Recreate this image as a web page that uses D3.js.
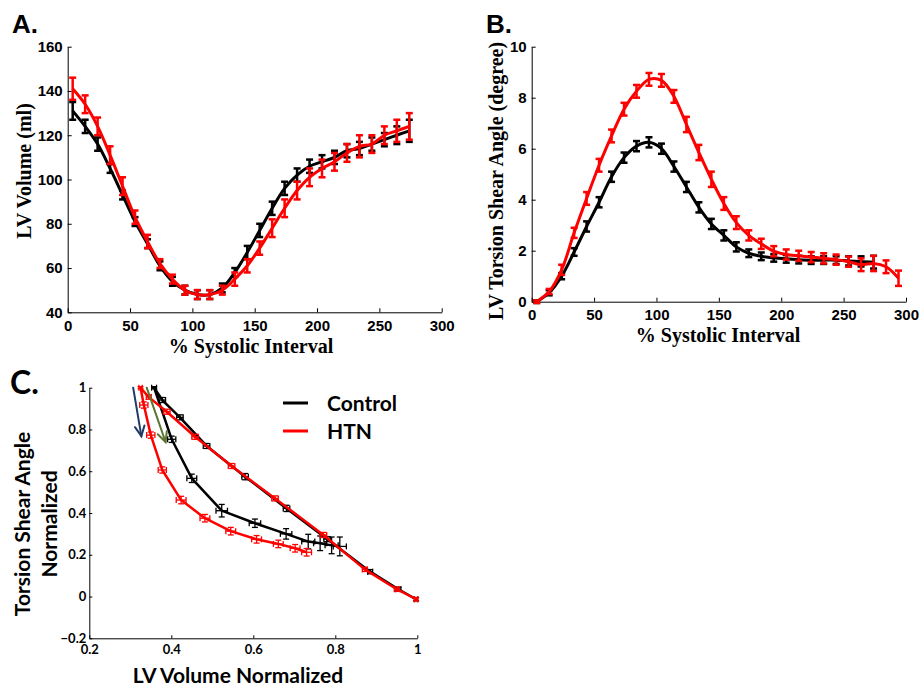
<!DOCTYPE html>
<html>
<head>
<meta charset="utf-8">
<script src="https://cdn.jsdelivr.net/npm/d3@7"></script>
<style>
  html, body { margin: 0; padding: 0; background: #fff; }
  svg { display: block; }
</style>
</head>
<body>
<svg id="chart" width="921" height="690"></svg>
<script>
// --- Panel A & B: % systolic interval
const pctControl = [4, 14, 24, 34, 44, 54, 64, 74, 84, 94, 104, 114, 124, 134, 144, 154, 164, 174, 184, 194, 204, 214, 224, 234, 244, 254, 264, 274];
const pctHTN = [4, 14, 24, 34, 44, 54, 64, 74, 84, 94, 104, 114, 124, 134, 144, 154, 164, 174, 184, 194, 204, 214, 224, 234, 244, 254, 264, 274, 284, 294];

// LV volume (ml)
const volControl = [131, 124, 116, 105, 93, 81, 71, 61, 54, 50, 48, 48, 51, 58, 67, 77, 87, 96, 102, 106, 108, 110, 113, 114, 116, 118, 120, 122];
const volControlErr = [4, 3, 3, 2, 2, 2, 2, 2, 2, 2, 2, 2, 2, 2, 3, 3, 3, 3, 3, 3, 3, 3, 3, 3, 3, 3, 4, 5];
const volHTN = [141, 134, 124, 111, 97, 83, 72, 62, 55, 50, 48, 48, 50, 55, 61, 69, 78, 87, 95, 101, 105, 108, 112, 115, 116, 120, 122, 124];
const volHTNErr = [5, 4, 4, 4, 4, 3, 3, 2, 2, 2, 2, 2, 2, 3, 3, 3, 4, 4, 4, 4, 4, 4, 4, 5, 4, 4, 5, 6];

// LV torsion shear angle (degree)
const torControl = [0, 0.35, 1.0, 1.95, 2.95, 3.9, 4.9, 5.65, 6.1, 6.25, 6.0, 5.3, 4.5, 3.7, 3.05, 2.6, 2.15, 1.9, 1.78, 1.72, 1.68, 1.65, 1.63, 1.63, 1.63, 1.6, 1.58, 1.55];
const torControlErr = [0.05, 0.1, 0.12, 0.15, 0.2, 0.2, 0.2, 0.2, 0.2, 0.2, 0.2, 0.2, 0.2, 0.2, 0.2, 0.2, 0.18, 0.15, 0.15, 0.15, 0.15, 0.15, 0.15, 0.15, 0.15, 0.18, 0.2, 0.25];
const torHTN = [0, 0.4, 1.25, 2.7, 4.05, 5.35, 6.5, 7.55, 8.25, 8.72, 8.68, 8.05, 6.95, 5.85, 4.8, 3.85, 3.1, 2.6, 2.27, 1.98, 1.85, 1.8, 1.75, 1.7, 1.65, 1.57, 1.45, 1.5, 1.37, 0.92];
const torHTNErr = [0.05, 0.1, 0.2, 0.2, 0.25, 0.25, 0.25, 0.25, 0.25, 0.25, 0.25, 0.25, 0.3, 0.3, 0.3, 0.25, 0.25, 0.2, 0.2, 0.2, 0.2, 0.2, 0.2, 0.2, 0.2, 0.2, 0.25, 0.3, 0.25, 0.3];

// --- Panel C: normalized loops (systole branch, then diastole branch)
const loopVolControl = [0.997, 0.954, 0.885, 0.78, 0.681, 0.58, 0.486, 0.421, 0.378, 0.358, 0.401, 0.45, 0.523, 0.604, 0.68, 0.734, 0.763, 0.791, 0.811];
const loopTorControl = [-0.013, 0.035, 0.119, 0.275, 0.422, 0.574, 0.721, 0.858, 0.941, 1.0, 0.753, 0.566, 0.411, 0.351, 0.3, 0.263, 0.255, 0.245, 0.24];
const loopVolControlErr = [0.004, 0.006, 0.006, 0.008, 0.008, 0.008, 0.008, 0.008, 0.008, 0.006, 0.01, 0.012, 0.014, 0.014, 0.014, 0.016, 0.016, 0.016, 0.016];
const loopTorControlErr = [0.008, 0.01, 0.01, 0.012, 0.015, 0.015, 0.012, 0.012, 0.012, 0.005, 0.015, 0.02, 0.03, 0.02, 0.025, 0.035, 0.035, 0.04, 0.045];

const loopVolHTN = [0.997, 0.95, 0.872, 0.771, 0.653, 0.547, 0.458, 0.389, 0.345, 0.325, 0.333, 0.35, 0.378, 0.424, 0.482, 0.545, 0.608, 0.661, 0.702, 0.73];
const loopTorHTN = [-0.013, 0.035, 0.13, 0.295, 0.47, 0.625, 0.765, 0.885, 0.955, 1.0, 0.917, 0.773, 0.606, 0.462, 0.375, 0.313, 0.274, 0.252, 0.231, 0.212];
const loopVolHTNErr = [0.004, 0.006, 0.006, 0.008, 0.008, 0.008, 0.008, 0.008, 0.006, 0.004, 0.01, 0.01, 0.01, 0.012, 0.012, 0.012, 0.012, 0.012, 0.012, 0.012];
const loopTorHTNErr = [0.008, 0.01, 0.01, 0.012, 0.012, 0.012, 0.012, 0.012, 0.01, 0.005, 0.015, 0.015, 0.015, 0.018, 0.018, 0.018, 0.018, 0.018, 0.018, 0.018];

// arrows in panel C: [x1, y1, x2, y2] in data units
const arrowBlue = [0.307, 1.0, 0.327, 0.768];
const arrowGreen = [0.34, 1.0, 0.386, 0.74];

const legendItems = ["Control", "HTN"];

(function() {
    const config = {
        colors: { control: "#000000", htn: "#ff0000", blue: "#1f3b66", green: "#5a7530" },
        fonts: {
            sans: '"Liberation Sans", Arial, sans-serif',
            serif: '"Liberation Serif", "Times New Roman", serif',
            calibri: 'Lato, "Open Sans", sans-serif'
        }
    };

    const svg = d3.select("#chart");

    function zip(xs, ys, es, xe) {
        return xs.map((x, i) => ({ x: x, y: ys[i], e: es ? es[i] : 0, xe: xe ? xe[i] : 0 }));
    }

    function styleAxis(g, font, size) {
        g.attr("font-family", font).attr("font-size", size).attr("font-weight", "bold");
        g.select(".domain").attr("stroke", "#000").attr("stroke-width", 1);
        g.selectAll(".tick line").attr("stroke", "#000");
        g.selectAll(".tick text").attr("fill", "#000");
    }

    // a time-course panel (A or B)
    function renderTimePanel(opts) {
        const g = svg.append("g");
        const x = d3.scaleLinear().domain([0, 300]).range(opts.xr);
        const y = d3.scaleLinear().domain(opts.yDomain).range(opts.yr);

        g.append("g")
            .attr("transform", `translate(0,${opts.yr[0]})`)
            .call(d3.axisBottom(x).tickValues([0, 50, 100, 150, 200, 250, 300]).tickSizeInner(-4).tickSizeOuter(0).tickPadding(opts.xPad))
            .call(s => styleAxis(s, config.fonts.sans, "15px"));

        g.append("g")
            .attr("transform", `translate(${opts.xr[0]},0)`)
            .call(d3.axisLeft(y).tickValues(opts.yTicks).tickSizeInner(-4).tickSizeOuter(0).tickPadding(5))
            .call(s => styleAxis(s, config.fonts.sans, "15px"));

        const line = d3.line().x(d => x(d.x)).y(d => y(d.y)).curve(d3.curveCatmullRom.alpha(0.5));

        opts.series.forEach(s => {
            g.append("path")
                .datum(s.data)
                .attr("fill", "none")
                .attr("stroke", s.color)
                .attr("stroke-width", 3)
                .attr("d", line);

            const eb = g.append("g").attr("stroke", s.color).attr("stroke-width", 2.5).attr("fill", "none");
            s.data.forEach(d => {
                const cx = x(d.x), y0 = y(d.y - d.e), y1 = y(d.y + d.e);
                eb.append("line").attr("x1", cx).attr("x2", cx).attr("y1", y0).attr("y2", y1);
                eb.append("line").attr("x1", cx - 3.5).attr("x2", cx + 3.5).attr("y1", y0).attr("y2", y0);
                eb.append("line").attr("x1", cx - 3.5).attr("x2", cx + 3.5).attr("y1", y1).attr("y2", y1);
            });
        });

        g.append("text")
            .attr("transform", `translate(${opts.yTitlePos[0]},${opts.yTitlePos[1]}) rotate(-90)`)
            .attr("text-anchor", "middle")
            .attr("dy", "0.35em")
            .attr("font-family", config.fonts.serif)
            .attr("font-weight", "bold")
            .attr("font-size", "20px")
            .text(opts.yTitle);

        g.append("text")
            .attr("x", opts.xTitlePos[0])
            .attr("y", opts.xTitlePos[1])
            .attr("text-anchor", "middle")
            .attr("font-family", config.fonts.serif)
            .attr("font-weight", "bold")
            .attr("font-size", "20px")
            .text("% Systolic Interval");

        g.append("text")
            .attr("x", opts.labelPos[0])
            .attr("y", opts.labelPos[1])
            .attr("font-family", config.fonts.sans)
            .attr("font-weight", "bold")
            .attr("font-size", "26px")
            .text(opts.label);
    }

    function renderLoopPanel() {
        const g = svg.append("g");
        const x = d3.scaleLinear().domain([0.2, 1]).range([89.3, 417.3]);
        const y = d3.scaleLinear().domain([-0.2, 1]).range([638.3, 387.7]);

        g.append("g")
            .attr("transform", `translate(0,${y(-0.2)})`)
            .call(d3.axisBottom(x).tickValues([0.2, 0.4, 0.6, 0.8, 1]).tickFormat(d3.format("~g")).tickSizeInner(-3).tickSizeOuter(0).tickPadding(6))
            .call(s => styleAxis(s, config.fonts.calibri, "13px"));

        g.append("g")
            .attr("transform", `translate(${x(0.2)},0)`)
            .call(d3.axisLeft(y).tickValues([-0.2, 0, 0.2, 0.4, 0.6, 0.8, 1]).tickFormat(d3.format("~g")).tickSizeInner(-3).tickSizeOuter(0).tickPadding(3))
            .call(s => styleAxis(s, config.fonts.calibri, "13px"));

        const line = d3.line().x(d => x(d.x)).y(d => y(d.y));

        const series = [
            { color: config.colors.control, data: zip(loopVolControl, loopTorControl, loopTorControlErr, loopVolControlErr) },
            { color: config.colors.htn, data: zip(loopVolHTN, loopTorHTN, loopTorHTNErr, loopVolHTNErr) }
        ];

        series.forEach(s => {
            g.append("path")
                .datum(s.data)
                .attr("fill", "none")
                .attr("stroke", s.color)
                .attr("stroke-width", 2.5)
                .attr("stroke-linejoin", "round")
                .attr("d", line);

            const eb = g.append("g").attr("stroke", s.color).attr("stroke-width", 1.3).attr("fill", "none");
            s.data.forEach(d => {
                const cx = x(d.x), cy = y(d.y);
                const ya = y(d.y - d.e), yb = y(d.y + d.e);
                const xa = x(d.x - d.xe), xb = x(d.x + d.xe);
                eb.append("line").attr("x1", cx).attr("x2", cx).attr("y1", ya).attr("y2", yb);
                eb.append("line").attr("x1", cx - 3).attr("x2", cx + 3).attr("y1", ya).attr("y2", ya);
                eb.append("line").attr("x1", cx - 3).attr("x2", cx + 3).attr("y1", yb).attr("y2", yb);
                eb.append("line").attr("x1", xa).attr("x2", xb).attr("y1", cy).attr("y2", cy);
                eb.append("line").attr("x1", xa).attr("x2", xa).attr("y1", cy - 3).attr("y2", cy + 3);
                eb.append("line").attr("x1", xb).attr("x2", xb).attr("y1", cy - 3).attr("y2", cy + 3);
            });
        });

        // arrows
        [[arrowBlue, config.colors.blue], [arrowGreen, config.colors.green]].forEach(([a, color]) => {
            const x1 = x(a[0]), y1 = y(a[1]), x2 = x(a[2]), y2 = y(a[3]);
            const ang = Math.atan2(y2 - y1, x2 - x1);
            const hl = 11, spread = 0.45;
            const ag = g.append("g").attr("stroke", color).attr("stroke-width", 2).attr("fill", "none").attr("stroke-linecap", "round");
            ag.append("line").attr("x1", x1).attr("y1", y1).attr("x2", x2).attr("y2", y2);
            ag.append("path").attr("d", `M${x2 - hl * Math.cos(ang - spread)},${y2 - hl * Math.sin(ang - spread)}L${x2},${y2}L${x2 - hl * Math.cos(ang + spread)},${y2 - hl * Math.sin(ang + spread)}`);
        });

        // legend
        const legend = g.append("g").attr("transform", "translate(283,403)");
        legendItems.forEach((name, i) => {
            const row = legend.append("g").attr("transform", `translate(0,${i * 28})`);
            row.append("line").attr("x1", 0).attr("x2", 25).attr("y1", 0).attr("y2", 0)
                .attr("stroke", i === 0 ? config.colors.control : config.colors.htn).attr("stroke-width", 3);
            row.append("text").attr("x", 44).attr("y", 0).attr("dy", "0.36em")
                .attr("font-family", config.fonts.calibri).attr("font-weight", "bold").attr("font-size", "21px")
                .text(name);
        });

        // titles
        const titleFont = s => s.attr("font-family", config.fonts.calibri).attr("font-weight", "bold").attr("font-size", "21px").attr("text-anchor", "middle");
        g.append("text").attr("x", 238).attr("y", 683).call(titleFont).text("LV Volume Normalized");
        g.append("text").attr("transform", "translate(23,524) rotate(-90)").attr("dy", "0.35em").call(titleFont).text("Torsion Shear Angle");
        g.append("text").attr("transform", "translate(50,524) rotate(-90)").attr("dy", "0.35em").call(titleFont).text("Normalized");

        g.append("text").attr("x", 10).attr("y", 394)
            .attr("font-family", config.fonts.calibri).attr("font-weight", "bold").attr("font-size", "32px")
            .text("C.");
    }

    renderTimePanel({
        label: "A.", labelPos: [12, 33],
        xr: [67.7, 441.7], yr: [312.3, 46.7], yDomain: [40, 160], yTicks: [40, 60, 80, 100, 120, 140, 160],
        xPad: 8, yTitle: "LV Volume (ml)", yTitlePos: [24, 171], xTitlePos: [251, 353],
        series: [
            { color: config.colors.control, data: zip(pctControl, volControl, volControlErr) },
            { color: config.colors.htn, data: zip(pctControl, volHTN, volHTNErr) }
        ]
    });

    renderTimePanel({
        label: "B.", labelPos: [486, 33],
        xr: [531.7, 906], yr: [301.7, 46.7], yDomain: [0, 10], yTicks: [0, 2, 4, 6, 8, 10],
        xPad: 7.5, yTitle: "LV Torsion Shear Angle (degree)", yTitlePos: [496, 181], xTitlePos: [718, 342],
        series: [
            { color: config.colors.control, data: zip(pctControl, torControl, torControlErr) },
            { color: config.colors.htn, data: zip(pctHTN, torHTN, torHTNErr) }
        ]
    });

    renderLoopPanel();
})();
</script>
</body>
</html>
